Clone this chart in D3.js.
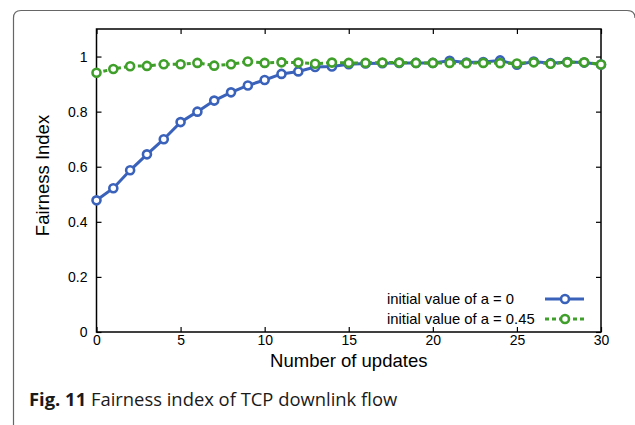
<!DOCTYPE html>
<html><head><meta charset="utf-8">
<script src="https://cdn.jsdelivr.net/npm/d3@7"></script>
<style>body{margin:0;background:#fff}svg{display:block}</style>
</head><body>
<svg id="c" width="635" height="425"></svg>
<script>
const updates = d3.range(0, 31);
const seriesA0 = [0.478,0.522,0.587,0.645,0.700,0.762,0.800,0.840,0.870,0.895,0.915,0.937,0.946,0.962,0.964,0.972,0.975,0.976,0.977,0.977,0.977,0.985,0.978,0.980,0.986,0.970,0.982,0.976,0.980,0.978,0.971];
const seriesA45 = [0.941,0.955,0.965,0.966,0.972,0.972,0.977,0.967,0.972,0.982,0.977,0.979,0.978,0.974,0.978,0.977,0.977,0.978,0.978,0.977,0.977,0.977,0.976,0.977,0.976,0.975,0.979,0.974,0.979,0.979,0.971];
const xTicks = [0,5,10,15,20,25,30];
const yTicks = [0,0.2,0.4,0.6,0.8,1];
const legendLabels = ["initial value of a = 0", "initial value of a = 0.45"];
const colors = ["#3a62bb", "#3f9f2a"];

const svg = d3.select("#c");
const L = 96.5, R = 601, T = 29, B = 332;
const x = d3.scaleLinear().domain([0,30]).range([L,R]);
const y = d3.scaleLinear().domain([0,1.1]).range([B,T]);
const font = "'Liberation Sans', Arial, Helvetica, sans-serif";

// outer figure border
svg.append("path")
  .attr("d", `M13.5,430 L13.5,18 Q13.5,10.5 21,10.5 L627,10.5 Q635,10.5 635,18`)
  .attr("fill","none").attr("stroke","#666").attr("stroke-width",1.2);

// axes (ticks inward)
const tk = 5;
const gx = svg.append("g").attr("transform",`translate(0,${B})`)
  .call(d3.axisBottom(x).tickValues(xTicks).tickSize(-tk).tickPadding(3).tickFormat(d3.format("d")));
const gxt = svg.append("g").attr("transform",`translate(0,${T})`)
  .call(d3.axisTop(x).tickValues(xTicks).tickSize(-tk).tickFormat(""));
const gy = svg.append("g").attr("transform",`translate(${L},0)`)
  .call(d3.axisLeft(y).tickValues(yTicks).tickSize(-tk).tickPadding(9).tickFormat(d => d===0||d===1 ? d3.format("d")(d) : d3.format(".1f")(d)));
const gyr = svg.append("g").attr("transform",`translate(${R},0)`)
  .call(d3.axisRight(y).tickValues(yTicks).tickSize(-tk).tickFormat(""));
[gx,gxt,gy,gyr].forEach(g=>{
  g.select(".domain").remove();
  g.selectAll(".tick line").attr("stroke","#000").attr("stroke-width",1.2);
  g.selectAll("text").attr("font-family",font).attr("font-size",14).attr("fill","#000");
});
svg.append("rect").attr("x",L).attr("y",T).attr("width",R-L).attr("height",B-T)
  .attr("fill","none").attr("stroke","#000").attr("stroke-width",1.5);

// axis titles
svg.append("text").attr("x",(L+R)/2).attr("y",367).attr("text-anchor","middle")
  .attr("font-family",font).attr("font-size",18.5).text("Number of updates");
svg.append("text").attr("transform",`translate(49,${(T+B)/2-5}) rotate(-90)`).attr("text-anchor","middle")
  .attr("font-family",font).attr("font-size",18.5).text("Fairness Index");

// series
const series = [seriesA0, seriesA45];
const dashes = [null, "4,3"];
const line = d3.line().x((d,i)=>x(updates[i])).y(d=>y(d));
series.forEach((s,k)=>{
  svg.append("path").datum(s).attr("d",line).attr("fill","none")
    .attr("stroke",colors[k]).attr("stroke-width",3).attr("stroke-dasharray",dashes[k]);
  svg.append("g").selectAll("circle").data(s).join("circle")
    .attr("cx",(d,i)=>x(updates[i])).attr("cy",d=>y(d)).attr("r",4)
    .attr("fill","#fff").attr("stroke",colors[k]).attr("stroke-width",2.6);
});

// legend
legendLabels.forEach((lab,k)=>{
  const ly = 299 + k*20;
  svg.append("text").attr("x",387).attr("y",ly).attr("dy","0.35em")
    .attr("font-family",font).attr("font-size",14.8).text(lab);
  svg.append("line").attr("x1",545).attr("x2",584).attr("y1",ly).attr("y2",ly)
    .attr("stroke",colors[k]).attr("stroke-width",3).attr("stroke-dasharray",dashes[k]);
  svg.append("circle").attr("cx",565).attr("cy",ly).attr("r",4)
    .attr("fill","#fff").attr("stroke",colors[k]).attr("stroke-width",2.6);
});

// caption
const cap = svg.append("text").attr("x",29).attr("y",406)
  .attr("font-family","'Open Sans', 'Noto Sans', sans-serif").attr("font-size",18.4).attr("fill","#1a1a1a");
cap.append("tspan").attr("font-weight","bold").text("Fig. 11");
cap.append("tspan").text(" Fairness index of TCP downlink flow");
</script>
</body></html>
